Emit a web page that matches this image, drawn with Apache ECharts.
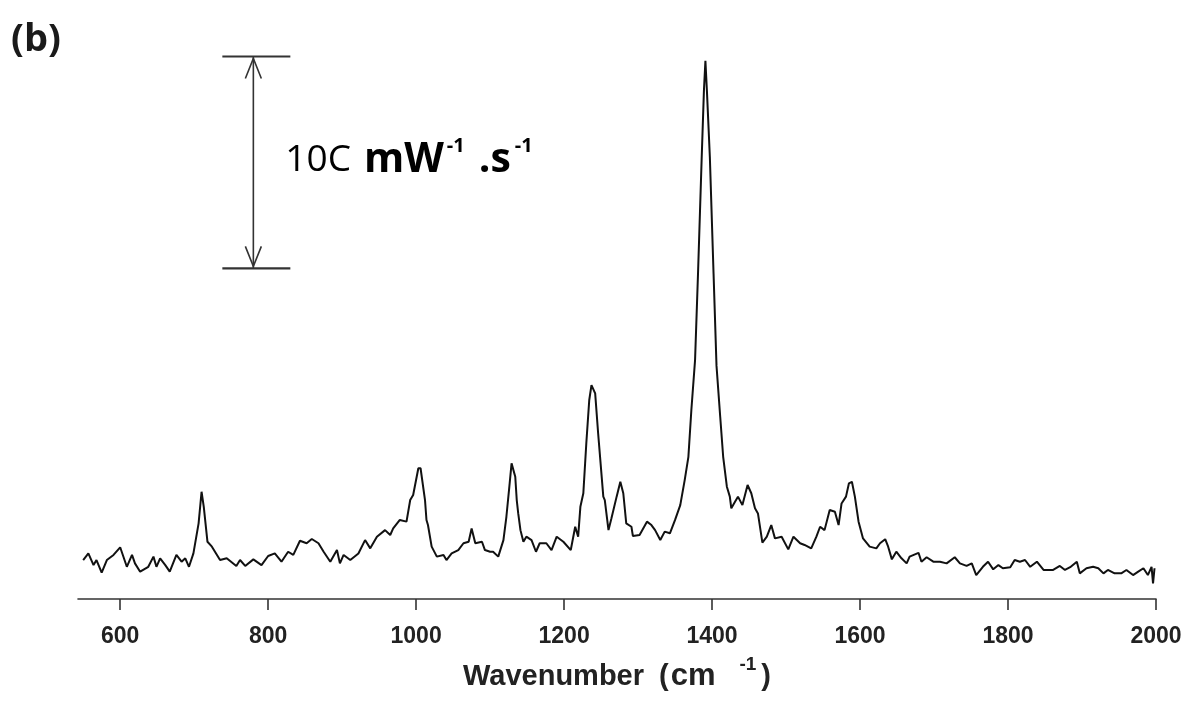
<!DOCTYPE html>
<html>
<head>
<meta charset="utf-8">
<script src="https://cdn.jsdelivr.net/npm/echarts@6/dist/echarts.min.js"></script>
<style>
  html, body { margin: 0; padding: 0; background: #fff; }
  #chart { width: 1189px; height: 709px; }
</style>
</head>
<body>
<div id="chart"></div>
<script>
// spectrum (wavenumber in cm-1, intensity in mW-1.s-1 units)
var wavenumbers = [
  550, 557, 564, 568, 575, 582, 591, 600, 609, 616, 620, 627, 638, 645, 649, 654, 661, 667, 676, 683,
  688, 693, 699, 706, 710, 713, 718, 724, 735, 744, 757, 762, 769, 780, 791, 800, 809, 818, 827, 834,
  843, 852, 859, 868, 875, 884, 893, 897, 902, 911, 922, 931, 938, 947, 958, 965, 969, 978, 987, 992,
  996, 1003, 1006, 1012, 1014, 1016, 1021, 1028, 1037, 1041, 1048, 1057, 1064, 1071, 1075, 1080, 1089, 1093, 1100, 1104,
  1111, 1118, 1122, 1126, 1129, 1134, 1136, 1138, 1141, 1145, 1149, 1156, 1162, 1167, 1176, 1183, 1190, 1199, 1209, 1215,
  1219, 1222, 1226, 1230, 1234, 1237, 1242, 1246, 1253, 1255, 1260, 1264, 1271, 1276, 1280, 1284, 1291, 1293, 1302, 1312,
  1318, 1323, 1330, 1336, 1343, 1350, 1357, 1363, 1368, 1372, 1377, 1381, 1386, 1389, 1391, 1393, 1397, 1402, 1406, 1411,
  1415, 1420, 1424, 1426, 1431, 1435, 1441, 1448, 1453, 1458, 1462, 1468, 1474, 1480, 1485, 1494, 1503, 1510, 1519, 1525,
  1534, 1541, 1546, 1552, 1559, 1566, 1571, 1575, 1581, 1585, 1589, 1593, 1598, 1604, 1613, 1622, 1627, 1634, 1638, 1643,
  1649, 1656, 1663, 1667, 1679, 1683, 1690, 1699, 1708, 1717, 1728, 1735, 1744, 1751, 1757, 1766, 1773, 1780, 1787, 1793,
  1803, 1809, 1816, 1823, 1830, 1839, 1848, 1861, 1870, 1877, 1884, 1893, 1897, 1906, 1915, 1922, 1929, 1935, 1944, 1953,
  1960, 1969, 1976, 1983, 1989, 1994, 1996, 1998
];
var intensity = [
  18.4, 21.5, 16, 18.4, 12.4, 18.4, 20.8, 24.4, 15.2, 20.8, 16.8, 12.9, 15.2, 20, 15.2, 19.2, 16, 12.9, 20.8, 17.6,
  19.2, 15.2, 21.5, 35.7, 50.6, 43.5, 27, 24.7, 18.4, 19.2, 15.6, 18.4, 15.6, 18.7, 16, 20.3, 21.5, 17.6, 22.3, 20.8,
  27.5, 26.3, 28.3, 26.3, 22.3, 17.6, 23.1, 16.8, 20.8, 18.4, 21.5, 27.8, 23.9, 29.4, 32.5, 30.2, 33.3, 37.3, 36.5, 46.7,
  49.1, 61.7, 61.7, 46.7, 37.3, 34.9, 24.7, 20, 20.8, 18.4, 21.5, 23.1, 26.3, 27, 33.3, 26.3, 27, 23.1, 22.3, 22.3,
  20, 27.8, 38.8, 53, 64, 57.7, 46.7, 40.4, 32.5, 27, 29.4, 27.8, 22.3, 26.3, 26.3, 23.1, 29.4, 27, 23.1, 34.1,
  29.4, 43.5, 49.9, 73.4, 93.9, 100.9, 97, 78.2, 48.3, 46.7, 32.5, 38.1, 48.3, 55.3, 49.9, 35.7, 34.1, 29.7, 30.2, 36.5,
  34.9, 32.5, 27.8, 31.8, 31, 37.3, 44.3, 56.1, 67.1, 89.2, 112.7, 153.6, 208.6, 240, 254, 240, 208.6, 153.6, 110, 86,
  67.1, 53, 48.3, 42.8, 45.9, 48.3, 44.3, 53.8, 49.9, 42.8, 40.4, 26.6, 29.4, 34.9, 28.6, 29.4, 23.4, 29.4, 26.3, 25.5,
  23.9, 29.4, 34.1, 32.5, 42, 41.2, 34.9, 45.1, 48.3, 54.6, 55.3, 48.3, 36.5, 28.6, 24.7, 23.9, 26.3, 28.2, 24.7, 18.7,
  22.3, 19.2, 16.8, 20, 21.8, 17.6, 19.7, 17.6, 17.6, 16.8, 19.7, 16.8, 15.6, 16.8, 11.3, 15.2, 17.6, 14, 16, 14.5,
  15, 18.4, 17.6, 18.4, 15.2, 17.6, 13.7, 13.7, 15.6, 13.7, 15, 17.6, 12.1, 14.5, 15.2, 14.5, 12.1, 13.7, 12.1, 12.1,
  13.7, 11.3, 12.9, 14.5, 11.3, 15.2, 7.4, 14.5
];
var xTicks = [600, 800, 1000, 1200, 1400, 1600, 1800, 2000];

// scale bar: [wavenumber, bottom, top], 100 units tall
var scaleBar = [[780, 156, 256]];
var scaleLabel = '{n|10C}{b|mW}{s|-1}{b|.s}{t|-1}';

function renderScaleBar(params, api) {
  var top = api.coord([api.value(0), api.value(2)]);
  var bot = api.coord([api.value(0), api.value(1)]);
  var st = { stroke: '#333', lineWidth: 1.6, fill: null };
  var cap = { stroke: '#333', lineWidth: 2.2, fill: null };
  return {
    type: 'group',
    children: [
      { type: 'line', shape: { x1: top[0], y1: top[1], x2: bot[0], y2: bot[1] }, style: st },
      { type: 'line', shape: { x1: top[0] - 31, y1: top[1], x2: top[0] + 37, y2: top[1] }, style: cap },
      { type: 'line', shape: { x1: bot[0] - 31, y1: bot[1], x2: bot[0] + 37, y2: bot[1] }, style: cap },
      { type: 'polyline', shape: { points: [[top[0] - 8, top[1] + 22], [top[0], top[1] + 2], [top[0] + 8, top[1] + 22]] }, style: st },
      { type: 'polyline', shape: { points: [[bot[0] - 8, bot[1] - 22], [bot[0], bot[1] - 2], [bot[0] + 8, bot[1] - 22]] }, style: st },
      {
        type: 'text',
        style: {
          x: top[0] + 32,
          y: (top[1] + bot[1]) / 2 - 2,
          text: scaleLabel,
          verticalAlign: 'middle',
          fill: '#000',
          rich: {
            n: { fontFamily: 'Open Sans', fontSize: 37, fontWeight: 500, color: '#000', padding: [0, 13, 0, 0] },
            b: { fontFamily: 'Open Sans', fontSize: 41, fontWeight: 'bold', color: '#000' },
            s: { fontFamily: 'Open Sans', fontSize: 20, fontWeight: 'bold', color: '#000', padding: [0, 14, 28, 3] },
            t: { fontFamily: 'Open Sans', fontSize: 20, fontWeight: 'bold', color: '#000', padding: [0, 0, 28, 4] }
          }
        }
      }
    ]
  };
}

var myChart = echarts.init(document.getElementById('chart'));

var spectrum = wavenumbers.map(function (w, i) { return [w, intensity[i]]; });

var option = {
  animation: false,
  backgroundColor: '#fff',
  grid: { left: 78, right: 33, top: 48, bottom: 110 },
  graphic: [
    {
      type: 'text',
      left: 11,
      top: 21,
      style: { text: '(b)', fontFamily: 'Open Sans', fontSize: 38, fontWeight: 'bold', fill: '#1a1a1a' }
    }
  ],
  xAxis: {
    type: 'value',
    min: 543,
    max: 2000,
    splitLine: { show: false },
    axisLine: { lineStyle: { color: '#333', width: 1.6 } },
    axisTick: { show: true, length: 11, lineStyle: { color: '#333', width: 1.6 }, customValues: xTicks },
    axisLabel: {
      customValues: xTicks,
      formatter: function (v) { return String(v); },
      margin: 26,
      color: '#222',
      fontFamily: 'Liberation Sans',
      fontWeight: 'bold',
      fontSize: 23
    },
    name: '{a|Wavenumber}{c|(}{d|cm}{s|-1}{a|)}',
    nameLocation: 'middle',
    nameGap: 56,
    nameTextStyle: {
      rich: {
        a: { fontFamily: 'Liberation Sans', fontWeight: 'bold', fontSize: 29, color: '#222' },
        c: { fontFamily: 'Liberation Sans', fontWeight: 'bold', fontSize: 29, color: '#222', padding: [0, 0, 0, 15] },
        d: { fontFamily: 'Liberation Sans', fontWeight: 'bold', fontSize: 31, color: '#222', padding: [0, 0, 0, 2] },
        s: { fontFamily: 'Liberation Sans', fontWeight: 'bold', fontSize: 19, color: '#222', padding: [0, 5, 24, 24] }
      }
    }
  },
  yAxis: {
    type: 'value',
    min: 0,
    max: 260,
    show: false
  },
  series: [
    {
      type: 'line',
      data: spectrum,
      showSymbol: false,
      symbol: 'none',
      lineStyle: { color: '#111', width: 2 },
      z: 3
    },
    {
      type: 'custom',
      data: scaleBar,
      renderItem: renderScaleBar,
      clip: false,
      silent: true
    }
  ]
};

myChart.setOption(option);
</script>
</body>
</html>
